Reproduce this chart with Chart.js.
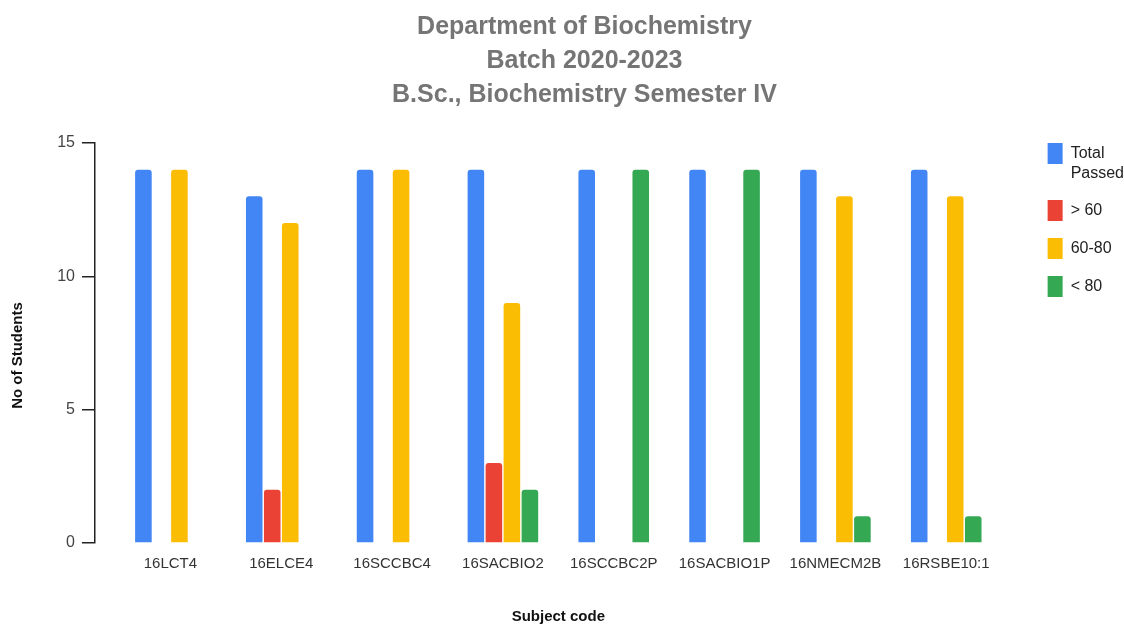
<!DOCTYPE html>
<html>
<head>
<meta charset="utf-8">
<script src="https://cdn.jsdelivr.net/npm/chart.js@4/dist/chart.umd.min.js"></script>
<style>
  html, body { margin: 0; padding: 0; background: #ffffff; }
  #wrap { position: relative; width: 1124px; height: 626px; }
</style>
</head>
<body>
<div id="wrap"><canvas id="c"></canvas></div>
<script>
const titleLines = ['Department of Biochemistry', 'Batch 2020-2023', 'B.Sc., Biochemistry Semester IV'];
const subjects = ['16LCT4', '16ELCE4', '16SCCBC4', '16SACBIO2', '16SCCBC2P', '16SACBIO1P', '16NMECM2B', '16RSBE10:1'];
const totalPassed = [14, 13, 14, 14, 14, 14, 14, 14];
const above60 = [0, 2, 0, 3, 0, 0, 0, 0];
const range60to80 = [14, 12, 14, 9, 0, 0, 13, 13];
const below80 = [0, 0, 0, 2, 14, 14, 1, 1];
const seriesNames = [['Total', 'Passed'], '> 60', '60-80', '< 80'];
const seriesColors = ['#4285F4', '#EA4335', '#FBBC04', '#34A853'];
const yTicks = [0, 5, 10, 15];

const seriesData = [totalPassed, above60, range60to80, below80];

// Google-Charts-like layout: y axis line sits a little left of the first category slot,
// legend sits a little right of the plot, title is centred over plot + legend.
const shiftPlugin = {
  id: 'shiftPlugin',
  afterLayout(chart) {
    const ca = chart.chartArea;
    const y = chart.scales.y;
    y.left -= 20; y.right -= 20;
    const lg = chart.legend;
    if (lg) {
      const h = lg.bottom - lg.top;
      lg.left += 29; lg.right += 29;
      lg.top = ca.top - 17; lg.bottom = lg.top + h;
    }
    const t = chart.titleBlock;
    if (t) { t.left += 32; t.right += 32; }
  }
};

new Chart(document.getElementById('c'), {
  type: 'bar',
  data: {
    labels: subjects,
    datasets: seriesData.map((d, i) => ({
      label: seriesNames[i],
      data: d,
      backgroundColor: seriesColors[i],
      borderWidth: 0,
      borderRadius: 3,
      categoryPercentage: 0.65,
      barPercentage: 0.92
    }))
  },
  options: {
    responsive: true,
    maintainAspectRatio: false,
    animation: false,
    devicePixelRatio: 1,
    layout: { padding: { left: 0, right: 19, top: 0, bottom: 0 } },
    plugins: {
      title: {
        display: true,
        text: titleLines,
        color: '#757575',
        font: { family: "'Liberation Sans', Arial, sans-serif", size: 25, weight: 'bold', lineHeight: 1.36 },
        padding: { top: 10, bottom: 31 }
      },
      legend: {
        position: 'right',
        align: 'start',
        labels: {
          boxWidth: 15,
          boxHeight: 21,
          padding: 17,
          color: '#222222',
          font: { family: "'Liberation Sans', Arial, sans-serif", size: 16, lineHeight: 1.25 }
        }
      },
      tooltip: { enabled: false }
    },
    scales: {
      x: {
        grid: { display: false, drawTicks: false },
        border: { display: false },
        ticks: {
          color: '#333333',
          padding: 12,
          maxRotation: 0,
          autoSkip: false,
          font: { family: "'Liberation Sans', Arial, sans-serif", size: 15 }
        },
        title: {
          display: true,
          text: 'Subject code',
          color: '#111111',
          font: { family: "'Liberation Sans', Arial, sans-serif", size: 15, weight: 'bold', lineHeight: 1.2 },
          padding: { top: 23, bottom: 0 }
        }
      },
      y: {
        min: 0,
        max: 15,
        afterFit(s) { s.width = 115; },
        afterBuildTicks(s) { s.ticks = yTicks.map(v => ({ value: v })); },
        grid: { display: true, drawOnChartArea: false, drawTicks: true, tickLength: 13, color: '#222222', lineWidth: 1.5 },
        border: { display: true, color: '#222222', width: 1.5 },
        ticks: {
          color: '#444444',
          padding: 7,
          font: { family: "'Liberation Sans', Arial, sans-serif", size: 16 }
        },
        title: {
          display: true,
          text: 'No of Students      ',
          color: '#111111',
          font: { family: "'Liberation Sans', Arial, sans-serif", size: 15, weight: 'bold', lineHeight: 1.2 },
          padding: { top: 29, bottom: 0 }
        }
      }
    }
  },
  plugins: [shiftPlugin]
});
</script>
</body>
</html>
